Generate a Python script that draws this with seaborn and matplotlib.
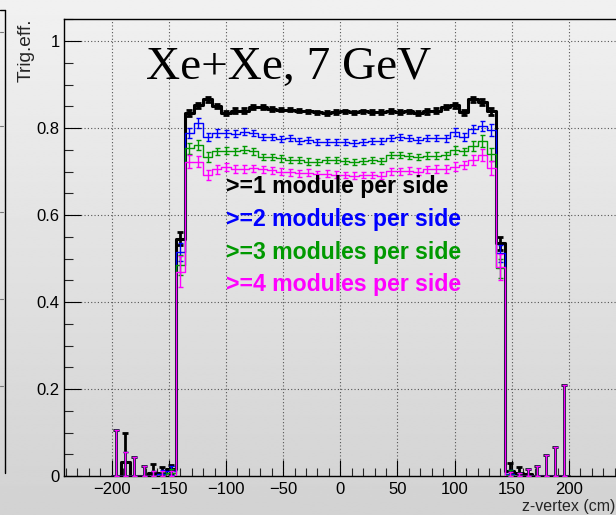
import numpy as np
import pandas as pd
import matplotlib
matplotlib.use("Agg")
import matplotlib.pyplot as plt
from matplotlib.lines import Line2D
from matplotlib.ticker import MultipleLocator
import seaborn as sns

# ---- binning: 8 cm bins between -200 and 200 cm ----
bin_edges = [float(v) for v in np.arange(-200, 201, 8)]
bin_centers = 0.5 * (np.array(bin_edges[:-1]) + np.array(bin_edges[1:]))

# ---- trigger efficiency per z-vertex bin ----
eff_1mod = [0.0, 0.032, 0.0, 0.0, 0.008, 0.008, 0.015,
            0.545,
            0.835, 0.852, 0.866, 0.850, 0.835, 0.840, 0.840, 0.848, 0.848, 0.844,
            0.842, 0.842, 0.840, 0.838, 0.836, 0.835, 0.837, 0.838, 0.836, 0.838,
            0.837, 0.837, 0.839, 0.837, 0.838, 0.834, 0.838, 0.840, 0.848, 0.852,
            0.836, 0.866, 0.860, 0.838,
            0.535,
            0.012, 0.008, 0.004, 0.0, 0.0, 0.0, 0.0]
err_1mod = [0.106, 0.068, 0.044, 0.023, 0.019, 0.012, 0.010,
            0.015,
            0.007, 0.006, 0.006, 0.005, 0.005, 0.005, 0.005, 0.005, 0.004, 0.004,
            0.004, 0.004, 0.004, 0.004, 0.004, 0.004, 0.004, 0.004, 0.004, 0.004,
            0.004, 0.004, 0.004, 0.004, 0.004, 0.004, 0.005, 0.005, 0.005, 0.005,
            0.005, 0.006, 0.006, 0.007,
            0.015,
            0.018, 0.012, 0.012, 0.023, 0.048, 0.067, 0.209]

eff_2mod = [0.0, 0.0, 0.0, 0.0, 0.0, 0.004, 0.012,
            0.515,
            0.788, 0.811, 0.779, 0.789, 0.788, 0.787, 0.791, 0.789, 0.780, 0.779,
            0.775, 0.776, 0.770, 0.772, 0.767, 0.768, 0.767, 0.768, 0.766, 0.768,
            0.770, 0.770, 0.777, 0.779, 0.778, 0.772, 0.776, 0.777, 0.776, 0.791,
            0.780, 0.798, 0.805, 0.795,
            0.512,
            0.004, 0.0, 0.0, 0.0, 0.0, 0.0, 0.0]
err_2mod = [0.106, 0.055, 0.044, 0.023, 0.012, 0.010, 0.010,
            0.020,
            0.012, 0.012, 0.010, 0.009, 0.008, 0.008, 0.008, 0.007, 0.007, 0.007,
            0.007, 0.007, 0.007, 0.007, 0.007, 0.007, 0.007, 0.007, 0.007, 0.007,
            0.007, 0.007, 0.007, 0.007, 0.007, 0.007, 0.007, 0.008, 0.008, 0.009,
            0.009, 0.010, 0.012, 0.014,
            0.020,
            0.010, 0.008, 0.016, 0.023, 0.048, 0.067, 0.209]

eff_3mod = [0.0, 0.0, 0.0, 0.0, 0.0, 0.0, 0.006,
            0.485,
            0.753, 0.761, 0.733, 0.746, 0.748, 0.746, 0.750, 0.746, 0.733, 0.733,
            0.730, 0.726, 0.727, 0.723, 0.722, 0.726, 0.726, 0.724, 0.722, 0.725,
            0.726, 0.724, 0.737, 0.737, 0.736, 0.733, 0.736, 0.736, 0.737, 0.749,
            0.746, 0.759, 0.770, 0.740,
            0.478,
            0.003, 0.0, 0.0, 0.0, 0.0, 0.0, 0.0]
err_3mod = [0.106, 0.055, 0.044, 0.023, 0.012, 0.010, 0.010,
            0.022,
            0.013, 0.012, 0.011, 0.009, 0.008, 0.008, 0.008, 0.008, 0.007, 0.007,
            0.007, 0.007, 0.007, 0.007, 0.007, 0.007, 0.007, 0.007, 0.007, 0.007,
            0.007, 0.007, 0.007, 0.007, 0.007, 0.007, 0.008, 0.008, 0.008, 0.009,
            0.009, 0.011, 0.013, 0.015,
            0.022,
            0.010, 0.008, 0.016, 0.023, 0.048, 0.067, 0.209]

eff_4mod = [0.0, 0.0, 0.0, 0.0, 0.0, 0.0, 0.0,
            0.470,
            0.723, 0.723, 0.692, 0.705, 0.710, 0.706, 0.705, 0.708, 0.705, 0.703,
            0.700, 0.698, 0.696, 0.697, 0.694, 0.695, 0.693, 0.692, 0.690, 0.692,
            0.692, 0.690, 0.701, 0.701, 0.702, 0.700, 0.705, 0.705, 0.705, 0.711,
            0.715, 0.726, 0.738, 0.708,
            0.480,
            0.0, 0.0, 0.0, 0.0, 0.0, 0.0, 0.0]
err_4mod = [0.106, 0.055, 0.044, 0.023, 0.012, 0.012, 0.012,
            0.035,
            0.014, 0.013, 0.012, 0.010, 0.009, 0.009, 0.009, 0.008, 0.008, 0.008,
            0.008, 0.008, 0.008, 0.008, 0.008, 0.008, 0.008, 0.008, 0.008, 0.008,
            0.008, 0.008, 0.008, 0.008, 0.008, 0.008, 0.008, 0.009, 0.009, 0.010,
            0.010, 0.012, 0.013, 0.016,
            0.030,
            0.010, 0.008, 0.016, 0.023, 0.048, 0.067, 0.209]

series_labels = [">=1 module per side", ">=2 modules per side",
                 ">=3 modules per side", ">=4 modules per side"]
series_colors = ["#000000", "#0000ff", "#009900", "#ff00ff"]

x_ticks = [-200, -150, -100, -50, 0, 50, 100, 150, 200]
y_ticks = [0, 0.2, 0.4, 0.6, 0.8, 1.0]
y_ticklabels = ["0", "0.2", "0.4", "0.6", "0.8", "1"]

title_text = "Xe+Xe, 7 GeV"
x_title = "z-vertex (cm)"
y_title = "Trig.eff."

# ---- figure ----
W, H, DPI = 616, 515, 100
sns.set_theme(style="ticks")
plt.rcParams["font.family"] = ["Liberation Sans", "DejaVu Sans"]
plt.rcParams["axes.unicode_minus"] = True

fig = plt.figure(figsize=(W / DPI, H / DPI), dpi=DPI)

# soft vertical grey gradient behind everything
bg = fig.add_axes([0, 0, 1, 1], zorder=-10)
bg.imshow(np.linspace(0.945, 0.825, 256)[:, None], cmap="gray", vmin=0, vmax=1,
          aspect="auto", extent=[0, 1, 0, 1], interpolation="bilinear")
bg.set_axis_off()

# edge of the neighbouring pad on the left
fig.add_artist(Line2D([4.5 / W, 4.5 / W], [1 - 10 / H, 1 - 473 / H],
                      color="black", lw=1.0))
fig.add_artist(Line2D([0, 4.5 / W], [1 - 10 / H, 1 - 10 / H], color="black", lw=1.0))
for yy in [32, 126, 212, 299, 386]:
    fig.add_artist(Line2D([0, 3 / W], [1 - yy / H, 1 - yy / H], color="#777777", lw=0.8))

px_left, px_right, px_top, px_bottom = 64, 619, 19, 476
ax = fig.add_axes([px_left / W, 1 - px_bottom / H,
                   (px_right - px_left) / W, (px_bottom - px_top) / H])
ax.patch.set_alpha(0)

series = [(eff_1mod, err_1mod), (eff_2mod, err_2mod),
          (eff_3mod, err_3mod), (eff_4mod, err_4mod)]
for i, ((vals, err), color) in enumerate(zip(series, series_colors)):
    vals = np.asarray(vals)
    err = np.asarray(err)
    thick = i == 0
    frame = pd.DataFrame({"z": bin_centers, "eff": vals})
    sns.histplot(data=frame, x="z", weights="eff", bins=bin_edges, element="step",
                 fill=False, color=color, linewidth=2.2 if thick else 1.0,
                 ax=ax, zorder=3 + i)
    ax.errorbar(bin_centers, vals, yerr=[np.minimum(err, vals), err], fmt="none",
                ecolor=color, elinewidth=2.0 if thick else 1.0,
                capsize=2.2 if thick else 1.8, capthick=2.0 if thick else 1.0,
                zorder=3 + i)

ax.set_xlim(-241.6, 243.7)
ax.set_ylim(0, 1.0506)
ax.set_xticks(x_ticks)
ax.set_yticks(y_ticks)
ax.set_yticklabels(y_ticklabels)
ax.xaxis.set_minor_locator(MultipleLocator(10))
ax.yaxis.set_minor_locator(MultipleLocator(0.05))
ax.tick_params(axis="x", which="major", direction="in", length=11.5, width=0.8,
               labelsize=12, pad=4, colors="black", top=False)
ax.tick_params(axis="x", which="minor", direction="in", length=5.8, width=0.8, top=False)
ax.tick_params(axis="y", which="major", direction="in", length=12.5, width=0.8,
               labelsize=12, pad=3, colors="black", right=False)
ax.tick_params(axis="y", which="minor", direction="in", length=6.5, width=0.8, right=False)
ax.grid(True, which="major", linestyle=(0, (1, 2)), color="#555555", linewidth=0.8)
ax.set_axisbelow(True)
for side in ["left", "bottom", "top", "right"]:
    ax.spines[side].set_color("black")
    ax.spines[side].set_linewidth(1.0)

ax.set_xlabel(x_title, fontsize=11.5, ha="right", va="center")
ax.xaxis.set_label_coords((615 - px_left) / (px_right - px_left),
                          -(507 - px_bottom) / (px_bottom - px_top))
# y title: end of the text at the top of the axis (anchor rotation)
ax.set_ylabel(y_title, fontsize=13.8, rotation=90, ha="right", va="center",
              rotation_mode="anchor")
ax.yaxis.set_label_coords(-(px_left - 26) / (px_right - px_left),
                          (px_bottom - 18) / (px_bottom - px_top))

fig.text(146 / W, 1 - 78.5 / H, title_text, family="Liberation Serif",
         fontsize=34, color="black", va="baseline", ha="left")

for label, color, base in zip(series_labels, series_colors, [193, 226, 258.5, 291]):
    fig.text(226 / W, 1 - base / H, label, fontsize=16.6, fontweight="bold",
             color=color, va="baseline", ha="left")

fig.savefig("out.png", dpi=DPI)
